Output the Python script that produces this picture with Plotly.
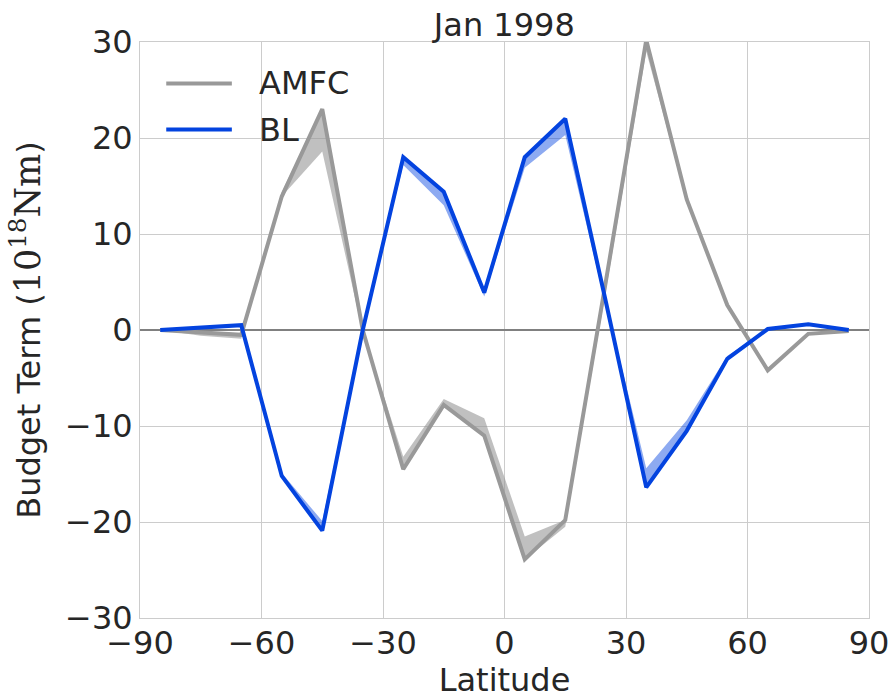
import plotly.graph_objects as go

# Zonal-mean angular momentum budget terms, Jan 1998
lat = [-85, -75, -65, -55, -45, -35, -25, -15, -5, 5, 15, 25, 35, 45, 55, 65, 75, 85]

amfc = [0.0, -0.3, -0.5, 13.9, 23.0, 0.0, -14.5, -7.8, -11.0, -23.9, -19.8, 5.0, 30.2, 13.6, 2.6, -4.2, -0.4, -0.1]
amfc_alt = [0.0, -0.6, -0.9, 14.4, 18.6, -0.3, -13.2, -7.2, -9.2, -21.5, -20.5, 4.0, 29.0, 13.4, 2.5, -4.2, -0.4, -0.1]

bl = [0.0, 0.3, 0.5, -15.2, -20.9, 0.0, 18.0, 14.4, 3.9, 18.0, 22.0, 3.0, -16.4, -10.5, -3.0, 0.1, 0.6, 0.0]
bl_alt = [0.0, 0.3, 0.4, -14.9, -19.9, 0.2, 17.2, 13.0, 3.5, 16.9, 20.3, 2.5, -14.4, -9.4, -2.7, 0.1, 0.6, 0.0]

x_ticks = [-90, -60, -30, 0, 30, 60, 90]
x_ticktext = ["\u221290", "\u221260", "\u221230", "0", "30", "60", "90"]
y_ticks = [-30, -20, -10, 0, 10, 20, 30]
y_ticktext = ["\u221230", "\u221220", "\u221210", "0", "10", "20", "30"]

series = [
    ("AMFC", amfc, amfc_alt, "#999999", "rgba(150,150,150,0.6)"),
    ("BL", bl, bl_alt, "#0343df", "rgba(3,67,223,0.45)"),
]

FONT = "DejaVu Sans"
TXT = "#262626"

fig = go.Figure()

for name, vals, alt, line_col, band_col in series:
    lo = [min(a, b) for a, b in zip(vals, alt)]
    hi = [max(a, b) for a, b in zip(vals, alt)]
    fig.add_trace(go.Scatter(x=lat, y=lo, mode="lines", line=dict(width=0),
                             showlegend=False, hoverinfo="skip"))
    fig.add_trace(go.Scatter(x=lat, y=hi, mode="lines", line=dict(width=0),
                             fill="tonexty", fillcolor=band_col,
                             showlegend=False, hoverinfo="skip"))
    fig.add_trace(go.Scatter(x=lat, y=vals, mode="lines", name=name,
                             line=dict(color=line_col, width=4), showlegend=False))

# legend drawn as line samples + labels in the upper-left corner
legend_rows = [("AMFC", "#999999", 0.928), ("BL", "#0343df", 0.848)]
for label, col, yp in legend_rows:
    fig.add_shape(type="line", xref="paper", yref="paper",
                  x0=0.036, x1=0.126, y0=yp, y1=yp,
                  line=dict(color=col, width=4))
    fig.add_annotation(xref="paper", yref="paper", x=0.160, y=yp,
                       text=label, showarrow=False, xanchor="left", yanchor="middle",
                       font=dict(family=FONT, size=32, color=TXT))

axis_common = dict(
    showgrid=True, gridcolor="#cccccc", gridwidth=1,
    showline=True, linecolor="#cccccc", linewidth=1, mirror=True,
    ticks="", tickfont=dict(family=FONT, size=32, color=TXT),
    automargin=False,
)

ylabel = ("Budget Term (<span style=\"font-family:'DejaVu Serif';font-size:35px\">"
          "10<sup>18</sup>Nm</span>)")

fig.update_layout(
    width=895, height=699,
    margin=dict(l=140, r=26, t=42, b=81),
    plot_bgcolor="white", paper_bgcolor="white",
    showlegend=False,
    title=dict(text="Jan 1998", x=0.5635, xanchor="center", y=0.965, yanchor="middle",
               font=dict(family=FONT, size=32, color=TXT)),
    xaxis=dict(range=[-90, 90], tickvals=x_ticks, ticktext=x_ticktext,
               zeroline=False, ticklabelstandoff=-3,
               title=dict(text="Latitude", standoff=4,
                          font=dict(family=FONT, size=32, color=TXT)),
               **axis_common),
    yaxis=dict(range=[-30, 30], tickvals=y_ticks, ticktext=y_ticktext,
               zeroline=True, zerolinecolor="#808080", zerolinewidth=2,
               ticklabelstandoff=0,
               title=dict(text=ylabel, standoff=14,
                          font=dict(family=FONT, size=32, color=TXT)),
               **axis_common),
)

fig.write_html("out.html")
